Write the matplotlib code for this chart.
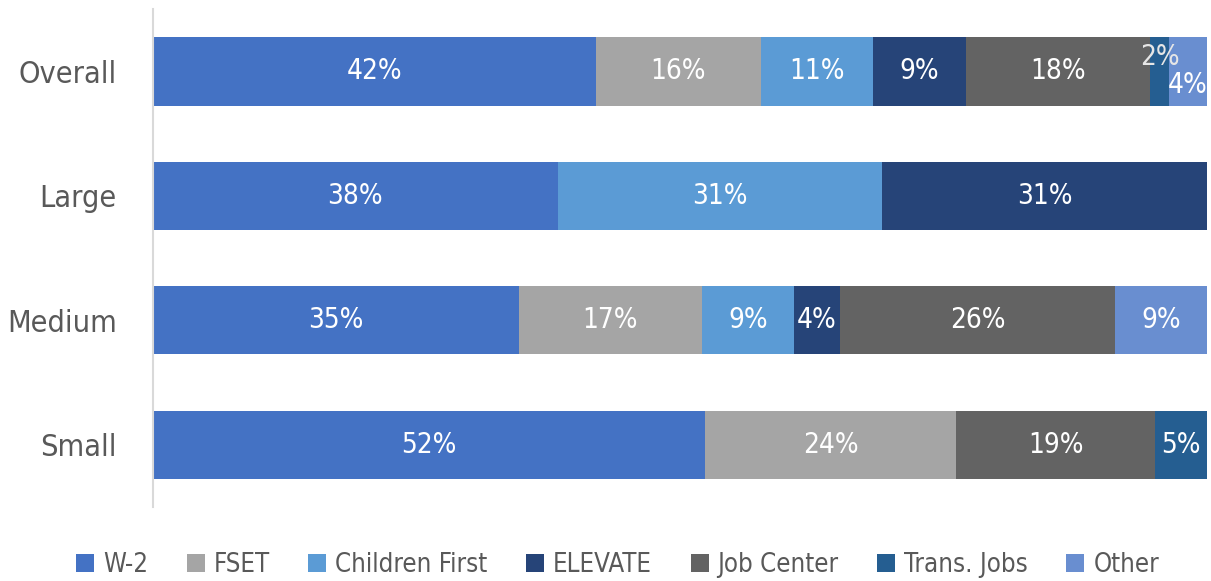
import matplotlib
matplotlib.use("Agg")
import matplotlib.pyplot as plt
import numpy as np

plt.rcParams["font.family"] = ["DejaVu Sans"]
plt.rcParams["font.stretch"] = "condensed"

# --- data (shares in %) ---
CATEGORIES = ["Overall", "Large", "Medium", "Small"]
SERIES = ["W-2", "FSET", "Children First", "ELEVATE", "Job Center",
          "Trans. Jobs", "Other"]
W2 = [42.0, 38.4, 34.7, 52.4]
FSET = [15.7, 0.0, 17.4, 23.8]
CHILDREN_FIRST = [10.6, 30.8, 8.7, 0.0]
ELEVATE = [8.8, 30.8, 4.4, 0.0]
JOB_CENTER = [17.5, 0.0, 26.1, 18.9]
TRANS_JOBS = [1.8, 0.0, 0.0, 4.9]
OTHER = [3.6, 0.0, 8.7, 0.0]

COLOURS = ["#4472C4", "#A5A5A5", "#5B9BD5", "#264478", "#636363",
           "#255E91", "#698ED0"]
TEXT_COLOUR = "#595959"

values = [W2, FSET, CHILDREN_FIRST, ELEVATE, JOB_CENTER, TRANS_JOBS, OTHER]

fig = plt.figure(figsize=(12.11, 5.81), dpi=100)
ax = fig.add_axes([153 / 1211, 0.1274, 1054 / 1211, 0.857])

y = np.arange(len(CATEGORIES))
left = np.zeros(len(CATEGORIES))
for name, vals, colour in zip(SERIES, values, COLOURS):
    vals = np.array(vals)
    ax.barh(y, vals, left=left, height=0.55, color=colour,
            label=name, edgecolor="none")
    for i, v in enumerate(vals):
        if v <= 0:
            continue
        cx = left[i] + v / 2
        txt = f"{v:.0f}%"
        # tiny Overall segments: labels nudged like in the original
        if CATEGORIES[i] == "Overall" and name == "Trans. Jobs":
            ax.annotate(txt, (cx, y[i]), xytext=(0, 10),
                        textcoords="offset points", ha="center",
                        va="center", fontsize=20, color="#E6E6E6")
        elif CATEGORIES[i] == "Overall" and name == "Other":
            ax.annotate(txt, (cx, y[i]), xytext=(0, -10),
                        textcoords="offset points", ha="center",
                        va="center", fontsize=20, color="white")
        else:
            ax.text(cx, y[i], txt, ha="center", va="center",
                    fontsize=20, color="white")
    left += vals

ax.set_xlim(0, 100)
ax.set_ylim(len(CATEGORIES) - 0.5, -0.5)
ax.set_yticks(y)
ax.set_yticklabels(CATEGORIES, fontsize=22, color=TEXT_COLOUR)
ax.tick_params(axis="y", length=0, pad=26)
ax.set_xticks([])
for side in ["top", "right", "bottom"]:
    ax.spines[side].set_visible(False)
ax.spines["left"].set_color("#D9D9D9")
ax.spines["left"].set_linewidth(1.5)

leg = fig.legend(loc="center", bbox_to_anchor=(0.51, 0.028),
                 ncol=len(SERIES), frameon=False, fontsize=18.5,
                 handlelength=0.7, handleheight=0.7, handletextpad=0.35,
                 columnspacing=1.5, borderpad=0)
for t in leg.get_texts():
    t.set_color(TEXT_COLOUR)

fig.savefig("out.png", dpi=100)
